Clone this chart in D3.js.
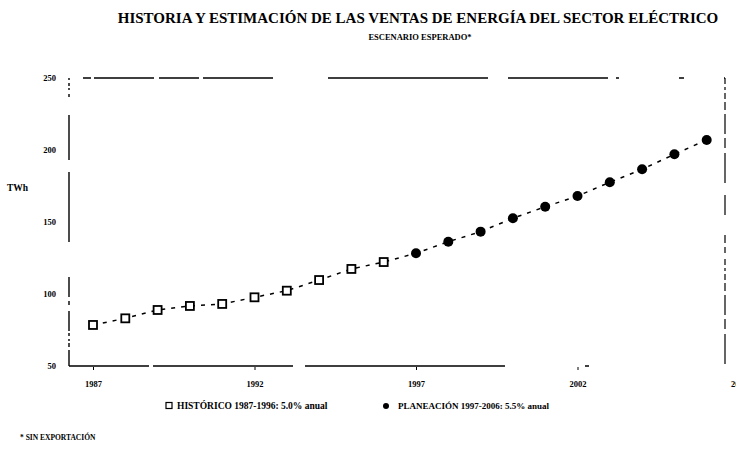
<!DOCTYPE html>
<html>
<head>
<meta charset="utf-8">
<script src="https://cdn.jsdelivr.net/npm/d3@7"></script>
<style>
	body { margin: 0; background: #fff; }
	svg { font-family: "Liberation Serif", "DejaVu Serif", serif; font-weight: bold; }
</style>
</head>
<body>
<div id="chart"></div>
<script>
var histYears = [1987, 1988, 1989, 1990, 1991, 1992, 1993, 1994, 1995, 1996];
var histSales = [78.5, 83.1, 88.9, 91.7, 93.1, 97.7, 102.3, 109.7, 117.4, 122.2];
var planYears = [1997, 1998, 1999, 2000, 2001, 2002, 2003, 2004, 2005, 2006];
var planSales = [128.3, 136.3, 143.3, 152.6, 160.6, 168.0, 177.6, 186.6, 197.0, 207.0];
var xTicks = [1987, 1992, 1997, 2002, 2007];
var yTicks = [50, 100, 150, 200, 250];
var legendLabels = ["HISTÓRICO 1987-1996: 5.0% anual", "PLANEACIÓN 1997-2006: 5.5% anual"];

var width = 736;
var height = 458;
var plotLeft = 69, plotRight = 725, plotTop = 78, plotBottom = 366;

var svg = d3.select("#chart")
	.append("svg")
		.attr("width", width)
		.attr("height", height);

var xScale = d3.scaleLinear()
	.domain([1987, 2007])
	.range([93, 739]);
var yScale = d3.scaleLinear()
	.domain([50, 250])
	.range([plotBottom, plotTop]);

var hist = histYears.map(function(y, i) { return {year: y, value: histSales[i]}; });
var plan = planYears.map(function(y, i) { return {year: y, value: planSales[i]}; });

// titles
svg.append("text")
	.attr("x", 418)
	.attr("y", 23)
	.attr("text-anchor", "middle")
	.attr("font-size", "15px")
	.text("HISTORIA Y ESTIMACIÓN DE LAS VENTAS DE ENERGÍA DEL SECTOR ELÉCTRICO");
svg.append("text")
	.attr("x", 420)
	.attr("y", 40)
	.attr("text-anchor", "middle")
	.attr("font-size", "8.5px")
	.text("ESCENARIO ESPERADO*");

// frame, broken like the scan
function frameLine(x1, y1, x2, y2, dash, w) {
	svg.append("line")
		.attr("x1", x1).attr("y1", y1)
		.attr("x2", x2).attr("y2", y2)
		.attr("stroke", "#000")
		.attr("stroke-width", w)
		.attr("stroke-dasharray", dash);
}
frameLine(plotLeft + 14, plotTop, plotRight, plotTop, "8,3,60,5,40,4,70,55,160,20,100", 1.3);
frameLine(plotLeft, plotTop, plotLeft, plotBottom, "2,3,3,2,2,4,3,18,45,12,70,35,20,4,4,6,20", 1.4);
frameLine(plotRight, plotTop, plotRight, plotBottom, "6,3,3,3,6,3,8,4,20,4,10,5,30,12,20,20,8,4,6,6", 1.2);
frameLine(plotLeft, plotBottom, plotRight, plotBottom, "80,4,140,12,200", 1.6);

// axes
var xAxis = d3.axisBottom(xScale)
	.tickValues(xTicks)
	.tickFormat(d3.format("d"))
	.tickSize(3);
svg.append("g")
	.attr("class", "x-axis")
	.attr("transform", "translate(0," + (plotBottom + 1) + ")")
	.call(xAxis)
	.call(function(g) { g.select(".domain").remove(); })
	.selectAll(".tick text")
		.attr("font-size", "8.5px")
		.attr("font-family", "Liberation Serif")
		.attr("font-weight", "bold")
		.attr("dy", "1.6em");

var yAxis = d3.axisLeft(yScale)
	.tickValues(yTicks)
	.tickSize(0)
	.tickPadding(13);
svg.append("g")
	.attr("class", "y-axis")
	.attr("transform", "translate(" + plotLeft + ",0)")
	.call(yAxis)
	.call(function(g) { g.select(".domain").remove(); })
	.selectAll(".tick text")
		.attr("font-size", "8.5px")
		.attr("font-family", "Liberation Serif")
		.attr("font-weight", "bold");

svg.append("text")
	.attr("x", 7)
	.attr("y", 191)
	.attr("font-size", "9.5px")
	.text("TWh");

// dashed line through all points
var line = d3.line()
	.x(function(d) { return xScale(d.year); })
	.y(function(d) { return yScale(d.value); });
svg.append("path")
	.datum(hist.concat(plan))
	.attr("d", line)
	.attr("fill", "none")
	.attr("stroke", "#000")
	.attr("stroke-width", 1.5)
	.attr("stroke-dasharray", "4,6");

svg.selectAll("rect.hist")
	.data(hist)
	.enter()
	.append("rect")
		.attr("class", "hist")
		.attr("x", function(d) { return xScale(d.year) - 4; })
		.attr("y", function(d) { return yScale(d.value) - 4; })
		.attr("width", 8)
		.attr("height", 8)
		.attr("fill", "#fff")
		.attr("stroke", "#000")
		.attr("stroke-width", 1.8);

svg.selectAll("circle.plan")
	.data(plan)
	.enter()
	.append("circle")
		.attr("class", "plan")
		.attr("cx", function(d) { return xScale(d.year); })
		.attr("cy", function(d) { return yScale(d.value); })
		.attr("r", 5)
		.attr("fill", "#000");

// legend
var legend = svg.append("g").attr("transform", "translate(0,406)");
legend.append("rect")
	.attr("x", 166).attr("y", -3.5)
	.attr("width", 6).attr("height", 6)
	.attr("fill", "#fff").attr("stroke", "#000").attr("stroke-width", 1.2);
legend.append("text")
	.attr("x", 177).attr("y", 3)
	.attr("font-size", "9.5px")
	.text(legendLabels[0]);
legend.append("circle")
	.attr("cx", 386).attr("cy", 0)
	.attr("r", 3)
	.attr("fill", "#000");
legend.append("text")
	.attr("x", 398).attr("y", 3)
	.attr("font-size", "9px")
	.text(legendLabels[1]);

svg.append("text")
	.attr("x", 20)
	.attr("y", 440)
	.attr("font-size", "7.5px")
	.text("* SIN EXPORTACIÓN");
</script>
</body>
</html>
